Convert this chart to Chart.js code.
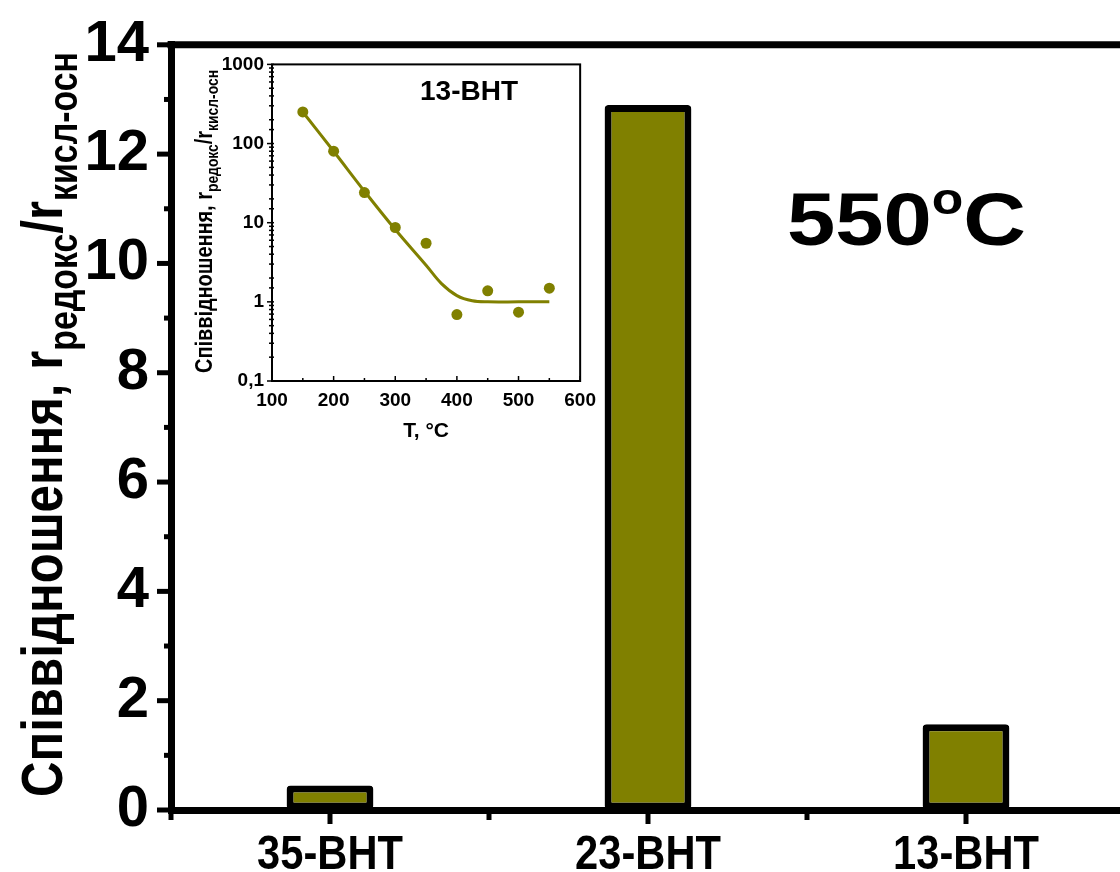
<!DOCTYPE html>
<html>
<head>
<meta charset="utf-8">
<script src="https://cdn.jsdelivr.net/npm/chart.js@4.4.1/dist/chart.umd.min.js"></script>
<style>
  html, body { margin: 0; padding: 0; background: #fff; overflow: hidden; }
  #wrap { position: relative; width: 1120px; height: 872px; overflow: hidden; }
  #main { position: absolute; left: 0; top: 0; }
  #inset { position: absolute; left: 180px; top: 50px; }
</style>
</head>
<body>
<div id="wrap">
  <canvas id="main" width="1130" height="872"></canvas>
  <canvas id="inset" width="420" height="400"></canvas>
</div>
<script>
// ── дані ──
const samples = ['35-ВНТ', '23-ВНТ', '13-ВНТ'];
const ratio550 = [0.45, 12.9, 1.57];

const insetTemps = [150, 200, 250, 300, 350, 400, 450, 500, 550];
const insetRatio = [251, 80, 24, 8.7, 5.5, 0.69, 1.38, 0.74, 1.49];
const fitTemps = [150, 200, 250, 300, 350, 375, 400, 425, 450, 500, 550];
const fitRatio = [250, 80, 25, 8.2, 2.9, 1.7, 1.2, 1.03, 1.0, 1.0, 1.0];

const OLIVE = '#808000';
const FONT = '"Liberation Sans", Arial, sans-serif';

// rotated axis title with subscripts, squeezed to fit between startY and endY
function drawRotatedTitle(ctx, parts, baseX, startY, endY, size, subSize, subDrop) {
  ctx.save();
  ctx.translate(baseX, startY);
  ctx.rotate(-Math.PI / 2);
  let total = 0;
  parts.forEach(p => {
    ctx.font = `bold ${p.sub ? subSize : size}px ${FONT}`;
    total += ctx.measureText(p.t).width;
  });
  ctx.scale((startY - endY) / total, 1);
  ctx.fillStyle = '#000';
  ctx.textBaseline = 'alphabetic';
  let x = 0;
  parts.forEach(p => {
    ctx.font = `bold ${p.sub ? subSize : size}px ${FONT}`;
    ctx.fillText(p.t, x, p.sub ? subDrop : 0);
    x += ctx.measureText(p.t).width;
  });
  ctx.restore();
}

const titleParts = [
  { t: 'Співвідношення, r' },
  { t: 'редокс', sub: true },
  { t: '/r' },
  { t: 'кисл-осн', sub: true }
];

const mainDecor = {
  id: 'mainDecor',
  afterDraw(chart) {
    const { ctx, chartArea: a, scales: { x, y } } = chart;
    ctx.save();
    ctx.strokeStyle = '#000';
    // top frame
    ctx.lineWidth = 7;
    ctx.beginPath();
    ctx.moveTo(a.left - 3.5, a.top);
    ctx.lineTo(a.right + 20, a.top);
    ctx.stroke();
    // y ticks (major even, minor odd)
    ctx.lineWidth = 5;
    for (let v = 0; v <= 14; v++) {
      const py = y.getPixelForValue(v);
      const len = v % 2 ? 7 : 14;
      ctx.beginPath();
      ctx.moveTo(a.left, py);
      ctx.lineTo(a.left - len, py);
      ctx.stroke();
    }
    // x ticks: major at categories, minor between
    const half = (x.getPixelForValue(1) - x.getPixelForValue(0)) / 2;
    ctx.fillStyle = '#000';
    ctx.font = `bold 49px ${FONT}`;
    ctx.textAlign = 'center';
    ctx.textBaseline = 'alphabetic';
    chart.data.labels.forEach((lab, i) => {
      const px = x.getPixelForValue(i);
      ctx.beginPath();
      ctx.moveTo(px, a.bottom);
      ctx.lineTo(px, a.bottom + 14);
      ctx.stroke();
      ctx.beginPath();
      ctx.moveTo(px - half, a.bottom);
      ctx.lineTo(px - half, a.bottom + 10);
      ctx.stroke();
      // condensed category label
      ctx.save();
      ctx.translate(px, 869);
      ctx.scale(0.85, 1);
      ctx.fillText(lab, 0, 0);
      ctx.restore();
    });
    ctx.restore();

    drawRotatedTitle(ctx, titleParts, 62, 797, 52, 58, 40, 15);

    // 550°C
    ctx.save();
    ctx.translate(787, 245);
    const segs = [{ t: '550', s: 74, dy: 0 }, { t: 'o', s: 44, dy: -31 }, { t: 'C', s: 74, dy: 0 }];
    let w = 0;
    segs.forEach(s => { ctx.font = `bold ${s.s}px ${FONT}`; w += ctx.measureText(s.t).width; });
    ctx.scale(239 / w, 1);
    ctx.fillStyle = '#000';
    let cx = 0;
    segs.forEach(s => {
      ctx.font = `bold ${s.s}px ${FONT}`;
      ctx.fillText(s.t, cx, s.dy);
      cx += ctx.measureText(s.t).width;
    });
    ctx.restore();
  }
};

new Chart(document.getElementById('main'), {
  type: 'bar',
  data: {
    labels: samples,
    datasets: [{
      data: ratio550,
      backgroundColor: OLIVE,
      borderColor: '#000',
      borderWidth: 7,
      borderRadius: 4,
      borderSkipped: false,
      barPercentage: 0.273,
      categoryPercentage: 1
    }]
  },
  options: {
    responsive: false,
    animation: false,
    layout: { padding: { top: 42, right: 5, left: 0, bottom: 0 } },
    plugins: { legend: { display: false }, tooltip: { enabled: false } },
    scales: {
      x: {
        grid: { display: true, drawOnChartArea: false, drawTicks: false },
        border: { display: true, width: 7, color: '#000' },
        ticks: { display: false },
        afterFit: s => { s.height = 62; }
      },
      y: {
        min: 0,
        max: 14,
        grid: { display: true, drawOnChartArea: false, drawTicks: true, tickLength: 12, tickColor: 'rgba(0,0,0,0)' },
        border: { display: true, width: 7, color: '#000' },
        ticks: { stepSize: 2, font: { family: FONT, size: 58, weight: 'bold' }, color: '#000', padding: 10 },
        afterFit: s => { s.width = 171; }
      }
    }
  },
  plugins: [mainDecor]
});

// ── вставка (inset) ──
const isDecade = v => Math.abs(Math.log10(v) - Math.round(Math.log10(v))) < 1e-9;

const insetDecor = {
  id: 'insetDecor',
  beforeDraw(chart) {
    const { ctx } = chart;
    ctx.save();
    ctx.fillStyle = '#fff';
    ctx.fillRect(0, 0, chart.width, chart.height);
    ctx.restore();
  },
  afterDraw(chart) {
    const { ctx, chartArea: a, scales: { x, y } } = chart;
    ctx.save();
    ctx.strokeStyle = '#000';
    ctx.lineWidth = 2;
    ctx.strokeRect(a.left, a.top, a.right - a.left, a.bottom - a.top);
    ctx.lineWidth = 1.5;
    y.ticks.forEach(t => {
      const py = y.getPixelForValue(t.value);
      const len = isDecade(t.value) ? 5 : 3;
      ctx.beginPath();
      ctx.moveTo(a.left - len, py);
      ctx.lineTo(a.left + 2, py);
      ctx.stroke();
    });
    for (let v = 100; v <= 600; v += 50) {
      const px = x.getPixelForValue(v);
      const len = v % 100 ? 3 : 5;
      ctx.beginPath();
      ctx.moveTo(px, a.bottom);
      ctx.lineTo(px, a.bottom - len);
      ctx.stroke();
    }
    ctx.fillStyle = '#000';
    ctx.font = `bold 28px ${FONT}`;
    ctx.fillText('13-ВНТ', 240, 50);
    ctx.restore();
    drawRotatedTitle(ctx, titleParts, 32, 323, 20, 23, 16, 6);
  }
};

new Chart(document.getElementById('inset'), {
  type: 'scatter',
  data: {
    datasets: [
      {
        data: insetTemps.map((t, i) => ({ x: t, y: insetRatio[i] })),
        backgroundColor: OLIVE,
        borderWidth: 0,
        pointRadius: 5.5
      },
      {
        type: 'line',
        data: fitTemps.map((t, i) => ({ x: t, y: fitRatio[i] })),
        borderColor: OLIVE,
        borderWidth: 3,
        pointRadius: 0,
        tension: 0.35,
        fill: false
      }
    ]
  },
  options: {
    responsive: false,
    animation: false,
    layout: { padding: { top: 14, right: 16, left: 0, bottom: 0 } },
    plugins: { legend: { display: false }, tooltip: { enabled: false } },
    scales: {
      x: {
        type: 'linear',
        min: 100,
        max: 600,
        grid: { display: true, drawOnChartArea: false, drawTicks: true, tickLength: 4, tickColor: 'rgba(0,0,0,0)' },
        border: { display: false },
        ticks: { stepSize: 100, font: { family: FONT, size: 19, weight: 'bold' }, color: '#000', padding: 4, maxRotation: 0 },
        title: { display: true, text: 'T, °C', font: { family: FONT, size: 21, weight: 'bold' }, color: '#000', padding: { top: 0, bottom: 6 } },
        afterFit: s => { s.height = 69; }
      },
      y: {
        type: 'logarithmic',
        min: 0.1,
        max: 1000,
        grid: { display: true, drawOnChartArea: false, drawTicks: true, tickLength: 5, tickColor: 'rgba(0,0,0,0)' },
        border: { display: false },
        ticks: {
          autoSkip: false,
          font: { family: FONT, size: 19, weight: 'bold' },
          color: '#000',
          padding: 3,
          callback: v => isDecade(v) ? String(v).replace('.', ',') : ''
        },
        afterFit: s => { s.width = 92; }
      }
    }
  },
  plugins: [insetDecor]
});
</script>
</body>
</html>
